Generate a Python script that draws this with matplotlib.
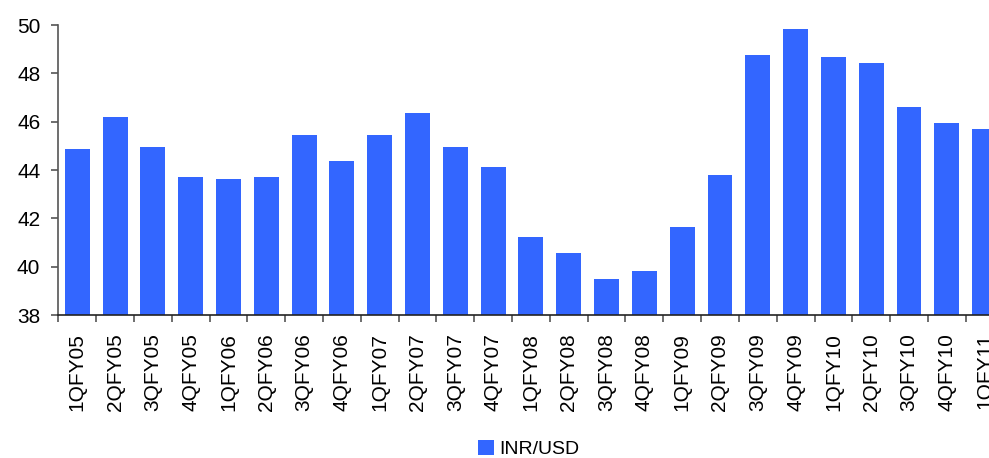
import numpy as np
import matplotlib.pyplot as plt
from matplotlib.ticker import FixedLocator

quarters = ["1QFY05", "2QFY05", "3QFY05", "4QFY05",
            "1QFY06", "2QFY06", "3QFY06", "4QFY06",
            "1QFY07", "2QFY07", "3QFY07", "4QFY07",
            "1QFY08", "2QFY08", "3QFY08", "4QFY08",
            "1QFY09", "2QFY09", "3QFY09", "4QFY09",
            "1QFY10", "2QFY10", "3QFY10", "4QFY10",
            "1QFY11"]
inr_usd = [44.87, 46.19, 44.95, 43.71,
           43.63, 43.71, 45.45, 44.37,
           45.45, 46.36, 44.95, 44.12,
           41.23, 40.57, 39.49, 39.82,
           41.64, 43.79, 48.76, 49.83,
           48.68, 48.43, 46.61, 45.95,
           45.70]

plt.rcParams['font.family'] = ['Liberation Sans', 'DejaVu Sans']

fig = plt.figure(figsize=(9.89, 4.58), dpi=100)
# right edge runs past the figure so the last quarter is cut off
ax = fig.add_axes([0.059, 0.3122, 1.0147 - 0.059, 0.9454 - 0.3122])

x = np.arange(len(quarters))
ax.bar(x, inr_usd, width=0.66, color="#3366FF", label="INR/USD", zorder=2)

ax.set_ylim(38, 50)
ax.set_yticks(np.arange(38, 51, 2))
ax.set_xlim(-0.5, len(quarters) - 0.5)
ax.set_xticks(x)
ax.set_xticklabels(quarters, rotation=90, fontsize=15)
ax.xaxis.set_minor_locator(FixedLocator(np.arange(-0.5, len(quarters), 1)))
ax.tick_params(axis='x', which='major', length=0, pad=13)
ax.tick_params(axis='x', which='minor', length=5, width=1.2, color="#555555")
ax.tick_params(axis='y', labelsize=15, length=5, width=1.2, color="#555555", pad=8)

for side in ("top", "right"):
    ax.spines[side].set_visible(False)
ax.spines["left"].set_color("#555555")
ax.spines["left"].set_linewidth(1.2)
ax.spines["bottom"].set_color("#222222")
ax.spines["bottom"].set_linewidth(1.2)

fig.legend(loc="center", bbox_to_anchor=(0.535, 0.02 + 0.0), fontsize=14,
           frameon=False, handlelength=0.8, handleheight=0.8,
           handletextpad=0.3, borderaxespad=0)

fig.savefig("out.png", dpi=100)
